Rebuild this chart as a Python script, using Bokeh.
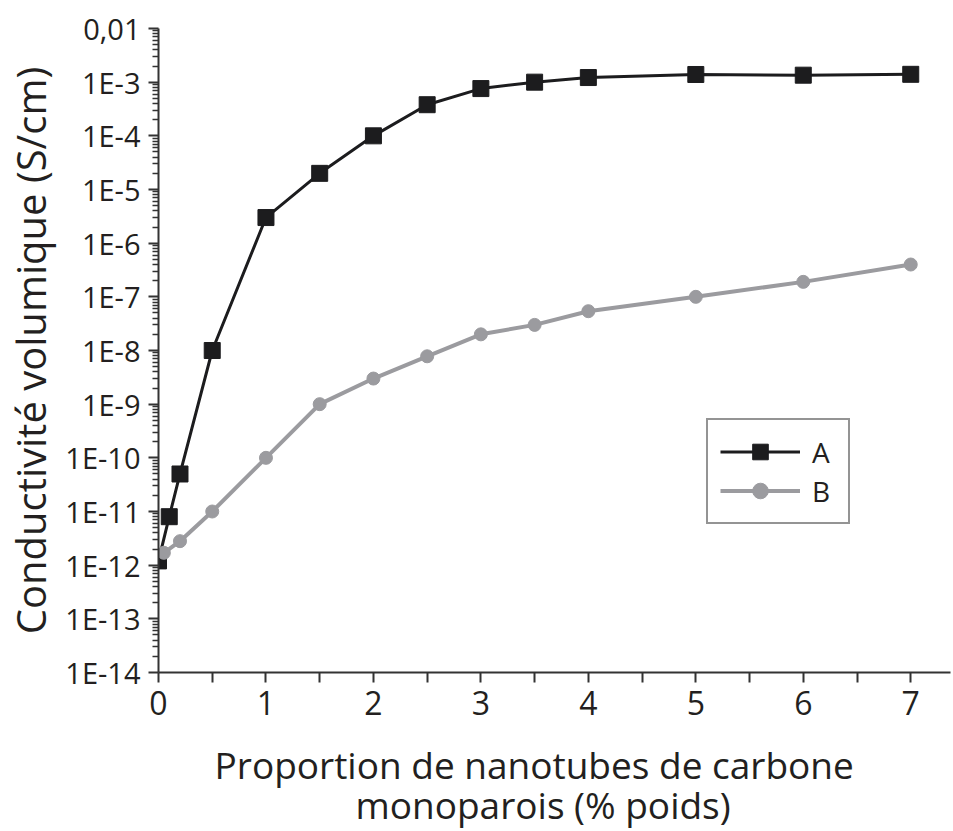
from bokeh.plotting import figure
from bokeh.models import FixedTicker, CustomJSTickFormatter, Legend, LegendItem, Title, Range1d
from bokeh.embed import file_html
from bokeh.resources import INLINE

# Data
x_a = [0, 0.1, 0.2, 0.5, 1, 1.5, 2, 2.5, 3, 3.5, 4, 5, 6, 7]
y_a = [1.2e-12, 8e-12, 5e-11, 1e-8, 3e-6, 2e-5, 1e-4, 3.8e-4, 7.6e-4, 1e-3, 1.22e-3, 1.39e-3, 1.35e-3, 1.4e-3]
x_b = [0.05, 0.2, 0.5, 1, 1.5, 2, 2.5, 3, 3.5, 4, 5, 6, 7]
y_b = [1.7e-12, 2.8e-12, 1e-11, 1e-10, 1e-9, 3e-9, 7.8e-9, 2e-8, 3e-8, 5.4e-8, 1e-7, 1.9e-7, 4e-7]
series_names = ["A", "B"]
x_ticks = [0, 1, 2, 3, 4, 5, 6, 7]
x_minor = [0.5, 1.5, 2.5, 3.5, 4.5, 5.5, 6.5]
y_exps = list(range(-14, -1))
x_title_lines = ["Proportion de nanotubes de carbone", "monoparois (% poids)"]
y_title = "Conductivité volumique (S/cm)"

FONT = "Open Sans"
TXT = "#231f20"

p = figure(width=953, height=831, output_backend="svg", toolbar_location=None,
           y_axis_type="log", x_range=Range1d(0, 7.37), y_range=Range1d(1e-14, 1e-2),
           min_border_left=156, min_border_right=3, min_border_top=28, min_border_bottom=159)
p.outline_line_color = None
p.grid.visible = False
p.background_fill_color = "white"

la = p.line(x_a, y_a, line_color="#1c1c1e", line_width=3)
ma = p.scatter(x_a, y_a, marker="square", size=16, fill_color="#1c1c1e", line_color="#1c1c1e")
lb = p.line(x_b, y_b, line_color="#9b9b9f", line_width=4)
mb = p.scatter(x_b, y_b, marker="circle", size=13, fill_color="#9b9b9f", line_color="#9b9b9f")

# X axis
xa = p.xaxis[0]
xa.ticker = FixedTicker(ticks=x_ticks, minor_ticks=x_minor)
xa.major_tick_out = 10
xa.major_tick_in = 0
xa.minor_tick_out = 10
xa.minor_tick_in = 0
xa.axis_line_width = 2
xa.axis_line_color = "#333333"
xa.major_tick_line_width = 2
xa.minor_tick_line_width = 2
xa.major_tick_line_color = "#333333"
xa.minor_tick_line_color = "#333333"
xa.major_label_text_font = FONT
xa.major_label_text_font_size = "32px"
xa.major_label_text_color = TXT
xa.major_label_standoff = 8

# Y axis
ya = p.yaxis[0]
major = [10.0 ** e for e in y_exps]
minor = [k * 10.0 ** e for e in y_exps[:-1] for k in range(2, 10)]
ya.ticker = FixedTicker(ticks=major, minor_ticks=minor)
ya.formatter = CustomJSTickFormatter(code="""
const e = Math.round(Math.log10(tick));
if (e == -2) return "0,01";
return "1E" + e;
""")
ya.major_tick_out = 10
ya.major_tick_in = 0
ya.minor_tick_out = 6
ya.minor_tick_in = 0
ya.axis_line_width = 2
ya.axis_line_color = "#333333"
ya.major_tick_line_width = 2
ya.minor_tick_line_width = 1.5
ya.major_tick_line_color = "#333333"
ya.minor_tick_line_color = "#333333"
ya.major_label_text_font = FONT
ya.major_label_text_font_size = "29px"
ya.major_label_text_color = TXT
ya.major_label_standoff = 8
ya.axis_label = y_title
ya.axis_label_text_font = FONT
ya.axis_label_text_font_size = "40px"
ya.axis_label_text_font_style = "normal"
ya.axis_label_text_color = TXT
ya.axis_label_standoff = 4

# spacer between the tick labels and the two-line x title
p.add_layout(Title(text=" ", text_font_size="1px", standoff=23), "below")
# X title: two centred lines placed below the axis
for txt, off, so in zip(x_title_lines, [56, 197], [-13, -13]):
    t = Title(text=txt, align="left", offset=off, text_font=FONT, text_font_size="37px",
              text_font_style="normal", text_color=TXT, standoff=so)
    p.add_layout(t, "below")

legend = Legend(items=[LegendItem(label=series_names[0], renderers=[la, ma]),
                       LegendItem(label=series_names[1], renderers=[lb, mb])],
                location=(548, 148))
legend.glyph_width = 80
legend.glyph_height = 39
legend.label_height = 39
legend.label_width = 24
legend.padding = 12
legend.spacing = 0
legend.label_standoff = 12
legend.label_text_font = FONT
legend.label_text_font_size = "28px"
legend.label_text_color = TXT
legend.border_line_color = "#2a2a2a"
legend.border_line_width = 2
legend.background_fill_color = "white"
legend.background_fill_alpha = 1
p.add_layout(legend)

open("out.html", "w").write(file_html(p, INLINE))
